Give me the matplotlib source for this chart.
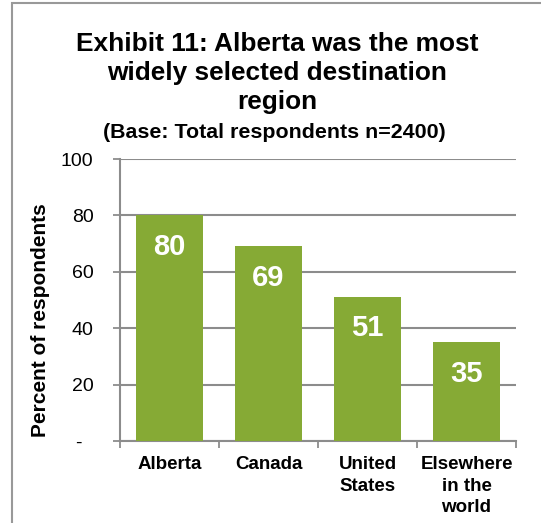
import matplotlib.pyplot as plt
from matplotlib.patches import Rectangle

plt.rcParams['font.family'] = ['Liberation Sans', 'DejaVu Sans']

# destination regions and share of respondents (%)
regions = ["Alberta", "Canada", "United\nStates", "Elsewhere\nin the\nworld"]
percents = [80, 69, 51, 35]
y_ticks = [0, 20, 40, 60, 80, 100]
y_tick_labels = ["-  ", "20", "40", "60", "80", "100"]

bar_color = "#86AA35"
grid_color = "#8C8C8C"

fig = plt.figure(figsize=(5.41, 5.23), dpi=100)
ax = fig.add_axes([120 / 541, 1 - 441 / 523, 396 / 541, 282 / 523])

x = list(range(len(regions)))
bars = ax.bar(x, percents, width=0.67, color=bar_color, zorder=3)

# value labels inside the top of each bar
for bar, val in zip(bars, percents):
    ax.annotate(str(val), (bar.get_x() + bar.get_width() / 2, val),
                xytext=(0, -22.5), textcoords="offset points",
                ha="center", va="center", color="white",
                fontsize=21, fontweight="bold", zorder=4)

ax.set_xlim(-0.5, len(regions) - 0.5)
ax.set_ylim(0, 100)

# horizontal gridlines
ax.set_yticks(y_ticks)
ax.set_yticklabels(y_tick_labels, fontsize=14)
ax.yaxis.grid(True, color=grid_color, linewidth=1.5, zorder=0)

# category boundary ticks, labels at the centres
ax.set_xticks([i - 0.5 for i in range(len(regions) + 1)])
ax.set_xticklabels([])
ax.set_xticks(x, minor=True)
ax.set_xticklabels(regions, minor=True, fontsize=13.5, fontweight="bold",
                   linespacing=1.35, va="top")
ax.tick_params(axis="x", which="minor", length=0, pad=11)
ax.tick_params(axis="x", which="major", length=5, width=1.3, color=grid_color)
ax.tick_params(axis="y", length=5, width=1.3, color=grid_color, pad=14)

for side in ["top", "right"]:
    ax.spines[side].set_visible(False)
for side in ["left", "bottom"]:
    ax.spines[side].set_color(grid_color)
    ax.spines[side].set_linewidth(1.5)

# axis title sits a little below the middle of the axis
fig.text(41 / 541, 1 - 320 / 523, "Percent of respondents", rotation=90,
         ha="center", va="center", fontsize=15, fontweight="bold")

# title block
fig.text(277 / 541, 1 - 73 / 523,
         "Exhibit 11: Alberta was the most\nwidely selected destination\nregion",
         ha="center", va="center", fontsize=18.9, fontweight="bold", linespacing=1.28)
fig.text(274 / 541, 1 - 132 / 523, "(Base: Total respondents n=2400)",
         ha="center", va="center", fontsize=15.4, fontweight="bold")

# outer chart frame
fig.patches.append(Rectangle((12 / 541, -0.1), 1.1, 1.1 - 3 / 523,
                             transform=fig.transFigure, fill=False,
                             edgecolor="#999999", linewidth=1.5))

fig.savefig("out.png", dpi=100)
